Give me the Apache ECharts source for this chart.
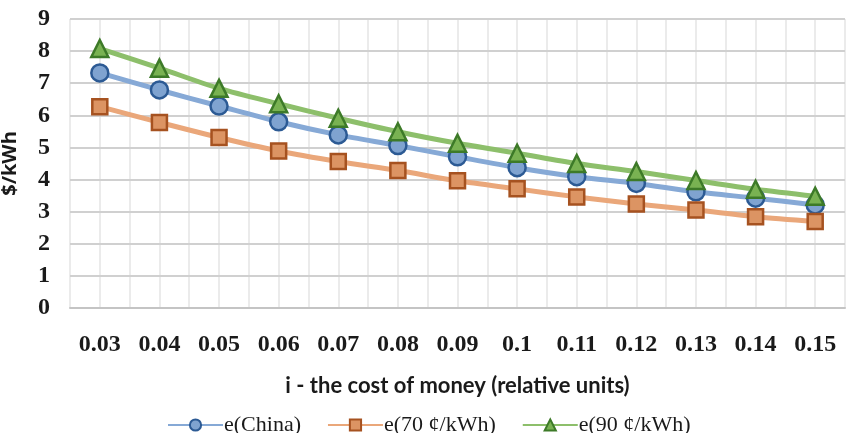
<!DOCTYPE html>
<html>
<head>
<meta charset="utf-8">
<script src="https://cdn.jsdelivr.net/npm/echarts@6/dist/echarts.min.js"></script>
<style>
  html, body { margin: 0; padding: 0; background: #ffffff; }
  #chart { width: 848px; height: 433px; }
</style>
</head>
<body>
<div id="chart"></div>
<script>
// Cost of money (relative units)
const rates = ['0.03', '0.04', '0.05', '0.06', '0.07', '0.08', '0.09', '0.1', '0.11', '0.12', '0.13', '0.14', '0.15'];

// Energy cost, $/kWh
const eChina = [7.32, 6.79, 6.29, 5.80, 5.39, 5.06, 4.71, 4.37, 4.09, 3.88, 3.62, 3.42, 3.21];
const e70 = [6.27, 5.78, 5.31, 4.89, 4.56, 4.28, 3.96, 3.71, 3.46, 3.24, 3.05, 2.84, 2.69];
const e90 = [8.08, 7.47, 6.84, 6.36, 5.91, 5.49, 5.13, 4.82, 4.50, 4.25, 3.97, 3.70, 3.48];

const yTicks = { min: 0, max: 9, step: 1 };

// Each rate band split in two halves, so the hidden helper axis puts a
// vertical grid line on every band edge and every band centre.
const halfBands = rates.flatMap(r => [r + '-', r + '+']);

const chart = echarts.init(document.getElementById('chart'), null, { renderer: 'canvas' });

function lineSeries(name, data, lineColor, fill, border, symbol, size) {
  return {
    name: name,
    type: 'line',
    data: data,
    xAxisIndex: 0,
    smooth: 0.3,
    symbol: symbol,
    symbolSize: size,
    showAllSymbol: true,
    lineStyle: { color: lineColor, width: 5 },
    itemStyle: { color: fill, borderColor: border, borderWidth: 2.5 },
    z: 3
  };
}

chart.setOption({
  animation: false,
  backgroundColor: '#ffffff',
  grid: { left: 70, right: 3, top: 19, bottom: 125, outerBoundsMode: 'none', containLabel: false },
  legend: {
    top: 409,
    left: 162,
    itemWidth: 55,
    itemHeight: 14,
    itemGap: 26,
    textStyle: { fontFamily: 'Liberation Serif', fontSize: 22, color: '#1a1a1a', padding: [0, 0, 0, -4] },
    data: ['e(China)', 'e(70 ¢/kWh)', 'e(90 ¢/kWh)']
  },
  xAxis: [
    {
      type: 'category',
      data: rates,
      boundaryGap: true,
      name: 'i - the cost of money (relative units)',
      nameLocation: 'middle',
      nameGap: 67,
      nameTextStyle: { fontFamily: 'Lato', fontWeight: 'bold', fontSize: 22, color: '#1a1a1a' },
      axisLine: { show: true, lineStyle: { color: '#c4c4c4', width: 2 } },
      axisTick: { show: false },
      axisLabel: { interval: 0, margin: 25, fontFamily: 'Liberation Serif', fontWeight: 'bold', fontSize: 24, color: '#1a1a1a' },
      splitLine: { show: false },
      z: 2
    },
    {
      type: 'category',
      data: halfBands,
      boundaryGap: true,
      position: 'bottom',
      axisLine: { show: false },
      axisTick: { show: false },
      axisLabel: { show: false },
      splitLine: { show: true, interval: 0, lineStyle: { color: '#e4e4e4', width: 1.5 } },
      z: 0
    }
  ],
  yAxis: {
    type: 'value',
    min: yTicks.min,
    max: yTicks.max,
    interval: yTicks.step,
    name: '$/kWh',
    nameLocation: 'middle',
    nameGap: 50,
    nameTextStyle: { fontFamily: 'Open Sans', fontWeight: 'bold', fontSize: 20, color: '#1a1a1a' },
    axisLine: { show: false },
    axisTick: { show: false },
    axisLabel: { margin: 20, fontFamily: 'Liberation Serif', fontWeight: 'bold', fontSize: 24, color: '#1a1a1a' },
    splitLine: { show: true, lineStyle: { color: '#d0d0d0', width: 2 } },
    z: 1
  },
  series: [
    lineSeries('e(China)', eChina, '#86a9d6', '#7fa3d0', '#2c5a94', 'circle', 17),
    lineSeries('e(70 ¢/kWh)', e70, '#eaa77a', '#dc9463', '#a65220', 'rect', 15),
    lineSeries('e(90 ¢/kWh)', e90, '#8dbf6b', '#79b252', '#3d7a28', 'triangle', 17)
  ]
});
</script>
</body>
</html>
